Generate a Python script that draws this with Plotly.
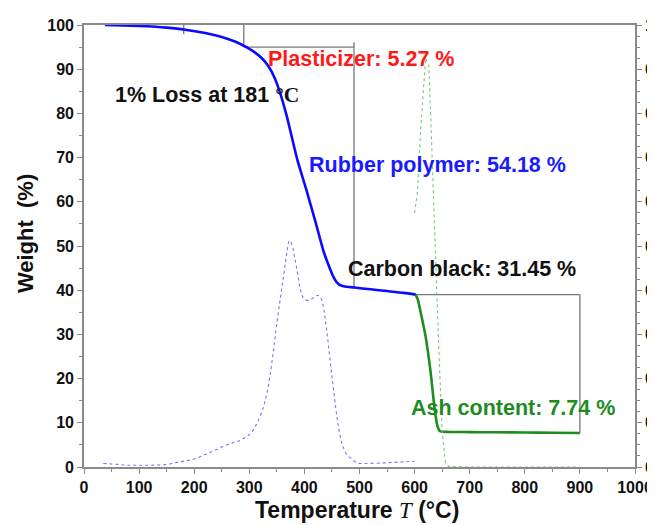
import plotly.graph_objects as go

# ---- data ----
# TGA weight curve (blue part: up to ~600 °C)
tga_blue_T = [38, 70, 100, 130, 150, 181, 220, 250, 275, 293, 310, 325, 335, 345, 355,
              368, 387, 405, 420, 435, 445, 452, 458, 464, 471, 490, 520, 550, 580, 602]
tga_blue_W = [100, 99.9, 99.8, 99.6, 99.4, 99.0, 98.2, 97.3, 96.2, 95.1, 93.8, 92.2, 90.6,
              88.3, 85.0, 79.4, 69.6, 62.1, 55.5, 48.7, 45.3, 43.2, 41.9, 41.2, 40.9, 40.6,
              40.2, 39.8, 39.4, 39.0]
# TGA weight curve (green part: ash)
tga_green_T = [602, 606, 611, 620, 629, 636, 641, 646, 655, 700, 750, 800, 850, 900]
tga_green_W = [39.0, 37.8, 35.0, 29.5, 21.5, 13.5, 9.5, 8.1, 7.95, 7.9, 7.85, 7.8, 7.75, 7.7]

# DTG curves (right axis)
dtg_blue_T = [35, 60, 80, 100, 120, 150, 175, 200, 225, 250, 270, 283, 302, 314, 326, 332,
              338, 344, 350, 356, 362, 367, 373, 378, 383, 388, 393, 398, 405, 412, 418,
              424, 429, 434, 441, 450, 459, 464, 469, 476, 484, 496, 510, 540, 570, 600]
dtg_blue_v = [0.008, 0.006, 0.004, 0.004, 0.004, 0.006, 0.012, 0.018, 0.031, 0.045, 0.055,
              0.060, 0.076, 0.099, 0.137, 0.167, 0.21, 0.265, 0.325, 0.379, 0.43, 0.475,
              0.512, 0.50, 0.47, 0.435, 0.40, 0.383, 0.377, 0.379, 0.385, 0.388, 0.385,
              0.365, 0.303, 0.205, 0.114, 0.075, 0.05, 0.03, 0.02, 0.009, 0.008, 0.009,
              0.011, 0.013]
dtg_green_T = [600, 605, 611, 618, 620, 626, 632, 638, 644, 650, 656, 662, 700, 800, 900]
dtg_green_v = [0.575, 0.62, 0.762, 0.908, 0.925, 0.908, 0.68, 0.47, 0.265, 0.08, 0.01,
               0.001, 0.0, 0.0, 0.0]

x_ticks = [0, 100, 200, 300, 400, 500, 600, 700, 800, 900, 1000]
y_ticks = [0, 10, 20, 30, 40, 50, 60, 70, 80, 90, 100]

# annotation texts
labels = ["Plasticizer: 5.27 %", "1% Loss at 181 <span style=\"font-family:Liberation Serif\">°C</span>",
          "Rubber polymer: 54.18 %", "Carbon black: 31.45 %", "Ash content: 7.74 %"]
label_x = [331, 53, 404, 476, 589]
label_y = [92.3, 84.1, 68.3, 44.9, 13.4]
label_colors = ["#ff1a1a", "#111111", "#1a1aff", "#111111", "#1e8c1e"]

x_title = "<b>Temperature <span style=\"font-family:Liberation Serif;font-weight:normal\"><i>T</i></span> (°C)</b>"
y_title = "<b>Weight  (%)</b>"

# guide lines (data coordinates)
guides = [
    (181, 100.3, 181, 97.9),
    (290, 101.4, 290, 95.0),
    (290, 95.0, 490, 95.0),
    (490, 96.1, 490, 40.6),
    (600, 39.0, 900, 39.0),
    (900, 39.0, 900, 7.7),
]

FONT = "Arial, Liberation Sans, sans-serif"
AXC = "#8a8a8a"
TICKFONT = dict(family=FONT, size=16, color="#111111", weight="bold")

fig = go.Figure()
fig.add_trace(go.Scatter(x=dtg_blue_T, y=dtg_blue_v, yaxis="y2", mode="lines",
                         line=dict(color="rgba(90,90,255,0.85)", width=1.1, dash="dot", shape="spline"),
                         showlegend=False))
fig.add_trace(go.Scatter(x=dtg_green_T, y=dtg_green_v, yaxis="y2", mode="lines",
                         line=dict(color="rgba(110,190,110,0.9)", width=1.1, dash="dot"),
                         showlegend=False))
fig.add_trace(go.Scatter(x=tga_blue_T, y=tga_blue_W, mode="lines",
                         line=dict(color="#0a0aff", width=2.6, shape="spline", smoothing=0.6),
                         showlegend=False))
fig.add_trace(go.Scatter(x=tga_green_T, y=tga_green_W, mode="lines",
                         line=dict(color="#1e8c1e", width=2.6, shape="spline", smoothing=0.6),
                         showlegend=False))

for (x0, y0, x1, y1) in guides:
    fig.add_shape(type="line", xref="x", yref="y", x0=x0, y0=y0, x1=x1, y1=y1,
                  line=dict(color="#777777", width=1.3), layer="below")

for t, x, y, c in zip(labels, label_x, label_y, label_colors):
    fig.add_annotation(x=x, y=y, xref="x", yref="y", text="<b>" + t + "</b>",
                       showarrow=False, xanchor="left", yanchor="middle",
                       font=dict(family=FONT, size=21.5, color=c))

# axis titles as annotations for exact placement
fig.add_annotation(x=0.495, y=-0.097, xref="paper", yref="paper", text=x_title,
                   showarrow=False, xanchor="center", yanchor="middle",
                   font=dict(family=FONT, size=23, color="#111111"))
fig.add_annotation(x=-0.107, y=0.527, xref="paper", yref="paper", text=y_title,
                   showarrow=False, xanchor="center", yanchor="middle", textangle=-90,
                   font=dict(family=FONT, size=22, color="#111111"))

fig.update_layout(
    width=647, height=517,
    margin=dict(l=76, r=20, t=17, b=58),
    paper_bgcolor="white", plot_bgcolor="white",
    font=dict(family=FONT, color="#111111"),
    xaxis=dict(range=[0, 1000], tickvals=x_ticks, ticks="outside", ticklen=5, tickwidth=1.2,
               tickcolor=AXC, showline=True, linecolor=AXC, linewidth=1.6, mirror=True,
               showgrid=False, zeroline=False, automargin=False,
               minor=dict(dtick=50, ticks="outside", ticklen=3, tickcolor=AXC),
               tickfont=TICKFONT),
    yaxis=dict(range=[0, 100], tickvals=y_ticks, ticks="outside", ticklen=5, tickwidth=1.2,
               tickcolor=AXC, showline=True, linecolor=AXC, linewidth=1.6,
               showgrid=False, zeroline=False, automargin=False,
               minor=dict(dtick=5, ticks="outside", ticklen=3, tickcolor=AXC),
               tickfont=TICKFONT),
    yaxis2=dict(range=[0, 1], overlaying="y", side="right", dtick=0.1, tickformat=".1f",
                ticks="outside", ticklen=5, tickwidth=1.2, tickcolor=AXC, showline=True,
                linecolor=AXC, linewidth=1.6, showgrid=False, zeroline=False,
                minor=dict(dtick=0.025, ticks="outside", ticklen=3, tickcolor=AXC),
                tickfont=TICKFONT, automargin=False),
)

fig.write_html("out.html")
